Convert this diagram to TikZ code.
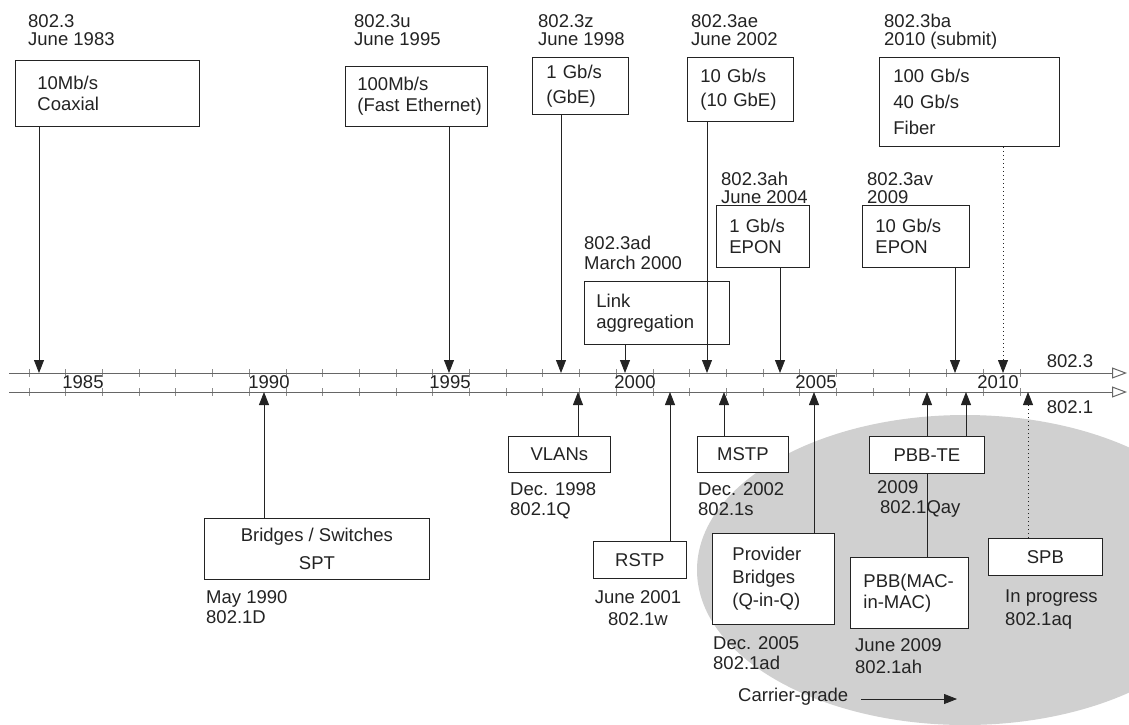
\documentclass[tikz,border=0pt]{standalone}
\usepackage{fontspec}
\setmainfont{Liberation Sans}
\usetikzlibrary{arrows.meta, positioning, calc}
\definecolor{carrier}{RGB}{208,208,208}
\definecolor{ink}{RGB}{35,35,35}

\begin{document}
\begin{tikzpicture}[x=1pt, y=-1pt]
\tikzset{box/.style={draw=ink, line width=0.8pt, fill=white, inner sep=0pt, anchor=north west, text=ink, font=\fontsize{18.5}{21}\selectfont},
  lbox/.style={box, align=left},
  cbox/.style={box, align=center},
  lbl/.style={inner sep=0pt, anchor=north west, align=left, text=ink, font=\fontsize{18.5}{20}\selectfont},
  toplbl/.style={lbl, font=\fontsize{18.5}{18}\selectfont},
  yr/.style={inner sep=0pt, text=ink, font=\fontsize{18.5}{20}\selectfont},
  arr/.style={draw=ink, line width=0.8pt, -{Triangle[length=13pt, width=10pt]}},
  dotarr/.style={arr, dash pattern=on 1.5pt off 2.5pt},
  axisline/.style={draw=black!60, line width=1pt, -{Triangle[open, length=15pt, width=11pt, fill=white]}},
  tick/.style={draw=black!45, line width=0.8pt}}
\useasboundingbox (0,0) rectangle (1129,724);
\clip (0,0) rectangle (1129,724);

% carrier-grade area
\fill[carrier] (965,570) ellipse [x radius=268pt, y radius=155pt];

% time axes
\coordinate (a3s) at (9,373); \coordinate (a3e) at (1127,373);
\coordinate (a1s) at (9,392); \coordinate (a1e) at (1127,392);
\foreach \i in {0,...,27} {
  \draw[tick] ({29+36.7*\i},369) -- ++(0,8);
  \draw[tick] ({29+36.7*\i},388) -- ++(0,8);
}
\draw[axisline] (a3s) -- (a3e);
\draw[axisline] (a1s) -- (a1e);
\foreach \y/\x in {1985/83, 1990/269, 1995/450, 2000/635, 2005/816, 2010/998}
  \node[yr] (y\y) at (\x,382) {\y};
\node[yr] (std3) at (1070,361) {802.3};
\node[yr] (std1) at (1070,407) {802.1};

% events on the axes
\coordinate (u83) at (39,373);  \coordinate (u95) at (449,373);
\coordinate (u98) at (561,373); \coordinate (u00) at (625,373);
\coordinate (u02) at (707,373); \coordinate (u04) at (780,373);
\coordinate (u09) at (955,373); \coordinate (u10) at (1003,373);
\coordinate (d90) at (264,392); \coordinate (d98) at (578,392);
\coordinate (d01) at (670,392); \coordinate (d02) at (724,392);
\coordinate (d05) at (814,392); \coordinate (d09a) at (927,392);
\coordinate (d09b) at (966,392); \coordinate (dspb) at (1028,392);

% 802.3
\node[toplbl] (l83) at (28,14) {802.3\\June 1983};
\node[lbox, text width=184pt, minimum height=66pt] (b83) at (15,60) {\hspace*{22pt}10Mb/s\\\hspace*{22pt}Coaxial};
\node[toplbl] (l95) at (354,14) {802.3u\\June 1995};
\node[lbox, text width=142pt, minimum height=60pt] (b95) at (345,66) {\hspace*{12pt}100Mb/s\\\hspace*{12pt}(Fast Ethernet)};
\node[toplbl] (l98) at (538,14) {802.3z\\June 1998};
\node[lbox, text width=96pt, minimum height=57pt] (b98) at (532,57) {\hspace*{14pt}1 Gb/s\\[4pt]\hspace*{14pt}(GbE)};
\node[toplbl] (l02) at (691,14) {802.3ae\\June 2002};
\node[lbox, text width=106pt, minimum height=64pt] (b02) at (687,57) {\hspace*{13pt}10 Gb/s\\[3pt]\hspace*{13pt}(10 GbE)};
\node[toplbl] (l10) at (884,14) {802.3ba\\2010 (submit)};
\node[lbox, text width=180pt, minimum height=89pt] (b10) at (879,57) {\hspace*{14pt}100 Gb/s\\[5pt]\hspace*{14pt}40 Gb/s\\[5pt]\hspace*{14pt}Fiber};
\node[toplbl] (l04) at (721,172) {802.3ah\\June 2004};
\node[lbox, text width=93pt, minimum height=62pt] (b04) at (716,205) {\hspace*{13pt}1 Gb/s\\\hspace*{13pt}EPON};
\node[toplbl] (l09) at (867,172) {802.3av\\2009};
\node[lbox, text width=107pt, minimum height=62pt] (b09) at (862,205) {\hspace*{13pt}10 Gb/s\\\hspace*{13pt}EPON};
\node[lbl] (l00) at (584,236) {802.3ad\\March 2000};
\node[lbox, text width=145pt, minimum height=63pt] (b00) at (584,281) {\hspace*{12pt}Link\\\hspace*{12pt}aggregation};

% 802.1
\node[cbox, minimum width=225pt, minimum height=61pt] (b90) at (204,518) {Bridges / Switches\\[7pt]SPT};
\node[lbl] (l90) at (206,590) {May 1990\\802.1D};
\node[cbox, minimum width=102pt, minimum height=36pt] (bvlan) at (508,436) {VLANs};
\node[lbl] (lvlan) at (510,482) {Dec. 1998\\802.1Q};
\node[cbox, minimum width=93pt, minimum height=37pt] (brstp) at (593,541) {RSTP};
\node[lbl, anchor=north, align=center, font=\fontsize{18.5}{22}\selectfont] (lrstp) at (638,590) {June 2001\\802.1w};
\node[cbox, minimum width=91pt, minimum height=36pt] (bmstp) at (697,436) {MSTP};
\node[lbl] (lmstp) at (698,482) {Dec. 2002\\802.1s};
\node[lbox, text width=122pt, minimum height=91pt] (bpb) at (712,533) {\hspace*{20pt}Provider\\[2pt]\hspace*{20pt}Bridges\\[2pt]\hspace*{20pt}(Q-in-Q)};
\node[lbl] (lpb) at (713,636) {Dec. 2005\\802.1ad};
\node[cbox, minimum width=115pt, minimum height=37pt] (bte) at (869,436) {PBB-TE};
\node[lbl] (lte) at (877,480) {2009\\\hspace*{3pt}802.1Qay};
\node[lbox, text width=118pt, minimum height=71pt] (bpbb) at (850,557) {\hspace*{13pt}PBB(MAC-\\\hspace*{13pt}in-MAC)};
\node[lbl, font=\fontsize{18.5}{22}\selectfont] (lpbb) at (855,638) {June 2009\\802.1ah};
\node[cbox, minimum width=114pt, minimum height=37pt] (bspb) at (988,538) {SPB};
\node[lbl, font=\fontsize{18.5}{23}\selectfont] (lspb) at (1005,590) {In progress\\802.1aq};
\node[yr, anchor=west] (cg) at (738,697) {Carrier-grade};
\coordinate (cgstart) at (861,699); \coordinate (cgend) at (957,699);

% connectors
\draw[arr] (b83.south -| u83) -- (u83);
\draw[arr] (b95.south -| u95) -- (u95);
\draw[arr] (b98.south -| u98) -- (u98);
\draw[arr] (b00.south -| u00) -- (u00);
\draw[arr] (b02.south -| u02) -- (u02);
\draw[arr] (b04.south -| u04) -- (u04);
\draw[arr] (b09.south -| u09) -- (u09);
\draw[dotarr] (b10.south -| u10) -- (u10);
\draw[arr] (b90.north -| d90) -- (d90);
\draw[arr] (bvlan.north -| d98) -- (d98);
\draw[arr] (brstp.north -| d01) -- (d01);
\draw[arr] (bmstp.north -| d02) -- (d02);
\draw[arr] (bpb.north -| d05) -- (d05);
\draw[draw=ink, line width=0.8pt] (bpbb.north -| d09a) -- (bte.south -| d09a);
\draw[arr] (bte.north -| d09a) -- (d09a);
\draw[arr] (bte.north -| d09b) -- (d09b);
\draw[dotarr] (bspb.north -| dspb) -- (dspb);
\draw[arr] (cgstart) -- (cgend);
\end{tikzpicture}
\end{document}
